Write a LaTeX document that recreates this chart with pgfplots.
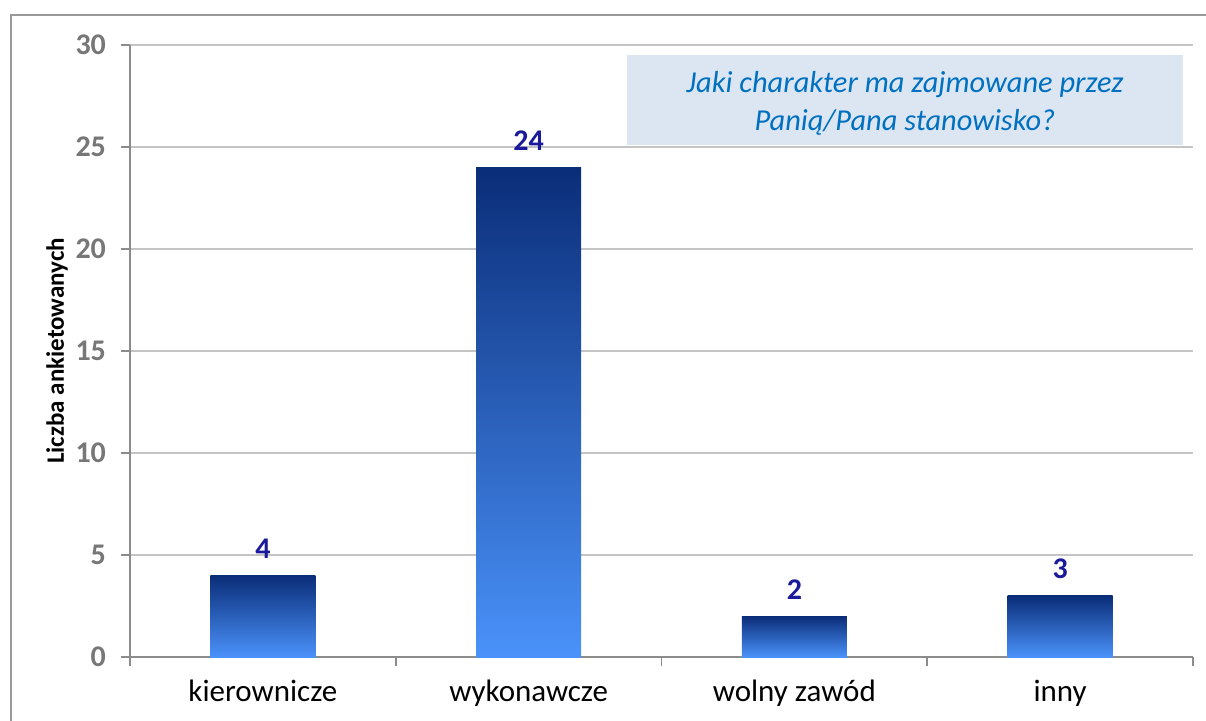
\documentclass[border=0pt]{standalone}
\usepackage{fontspec}
\setmainfont{Carlito}
\usepackage{pgfplots}
\pgfplotsset{compat=1.18}
\definecolor{tickgray}{HTML}{777777}
\definecolor{axisgray}{HTML}{8C8C8C}
\definecolor{gridgray}{HTML}{C4C4C4}
\definecolor{framegray}{HTML}{999999}
\definecolor{bartop}{HTML}{0A2D78}
\definecolor{barbot}{HTML}{4A92FA}
\definecolor{valblue}{HTML}{1A1A9A}
\definecolor{titleblue}{HTML}{0070C0}
\definecolor{titlefill}{HTML}{DCE6F2}
\begin{document}
\begin{tikzpicture}[x=1pt,y=1pt]
\useasboundingbox (0,0) rectangle (603,360);
\clip (0,0) rectangle (603,360);
\draw[framegray, line width=1pt] (5.5,-10) rectangle (620,352.5);
\begin{axis}[
  /pgf/number format/assume math mode=true,
  at={(65pt,31.5pt)}, anchor=south west,
  scale only axis, width=531.5pt, height=306pt,
  xmin=-0.5, xmax=3.5, ymin=0, ymax=30,
  ytick={0,5,...,30},
  axis x line=bottom, axis y line=left,
  axis line style={draw=axisgray, line width=0.8pt, -},
  ymajorgrids, grid style={gridgray, line width=0.8pt},
  tick align=outside, major tick length=4.5pt,
  tick style={draw=axisgray, line width=0.8pt},
  xtick={-0.5,0.5,1.5,2.5,3.5}, xticklabels={},
  extra x ticks={0,1,2,3},
  extra x tick labels={kierownicze,wykonawcze,wolny zawód,inny},
  extra x tick style={major tick length=0pt,
    ticklabel style={font=\fontsize{15.5}{15.5}\selectfont, text=black, yshift=-8pt}},
  yticklabel style={font=\bfseries\fontsize{15}{15}\selectfont, text=tickgray, xshift=-4pt},
  ylabel={Liczba ankietowanych},
  every axis y label/.style={at={(axis description cs:-0.0687,0.5)}, rotate=90, anchor=center,
    font=\bfseries\fontsize{12.5}{12.5}\selectfont},
  no markers,
  nodes near coords,
  every node near coord/.append style={font=\bfseries\fontsize{15}{15}\selectfont, text=valblue, yshift=5pt},
  bar shift=0pt,
  every axis plot/.append style={ybar, bar width=52.5pt, draw=none, top color=bartop, bottom color=barbot},
]
\fill[titlefill] (rel axis cs:0.4675,0.8366) rectangle (rel axis cs:0.9906,0.9837);
\node[align=center, font=\itshape\fontsize{15.2}{19}\selectfont, text=titleblue]
  at (rel axis cs:0.729,0.905) {Jaki charakter ma zajmowane przez\\Panią/Pana stanowisko?};
\addplot coordinates {(0,4)};
\addplot coordinates {(1,24)};
\addplot coordinates {(2,2)};
\addplot coordinates {(3,3)};
\end{axis}
\end{tikzpicture}
\end{document}
